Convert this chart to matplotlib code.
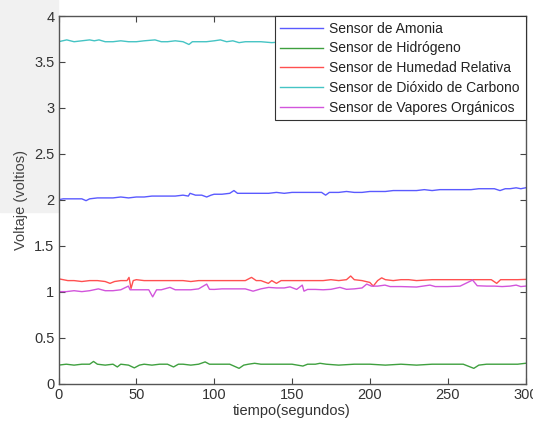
import matplotlib
matplotlib.use('Agg')
import matplotlib.pyplot as plt
from matplotlib.patches import Rectangle

plt.rcParams['font.family'] = ['Liberation Sans', 'DejaVu Sans']

# datos (tiempo en s, voltaje en V)
t_amonia = [0, 3, 8, 12, 15, 17.7, 20, 25, 30, 35, 40, 45, 50, 55, 60, 65, 70, 75, 80,
            83.4, 84.5, 88, 92, 95.2, 98, 100, 105, 110, 112.7, 115, 120, 125, 130, 135,
            140, 145, 150, 155, 160, 165, 169, 171.6, 174, 180, 185, 190, 195, 200, 205,
            210, 215, 220, 225, 230, 235, 240, 245, 250, 255, 260, 265, 270, 275, 280,
            283.6, 287, 290, 294, 297, 300]
v_amonia = [2.00, 2.01, 2.01, 2.01, 2.01, 1.99, 2.01, 2.02, 2.02, 2.02, 2.03, 2.02, 2.03,
            2.03, 2.04, 2.04, 2.04, 2.04, 2.05, 2.04, 2.07, 2.05, 2.05, 2.03, 2.05, 2.06,
            2.06, 2.07, 2.10, 2.07, 2.07, 2.07, 2.07, 2.07, 2.08, 2.07, 2.08, 2.08, 2.08,
            2.08, 2.08, 2.05, 2.08, 2.08, 2.09, 2.08, 2.08, 2.09, 2.09, 2.09, 2.10, 2.10,
            2.10, 2.10, 2.11, 2.10, 2.11, 2.11, 2.11, 2.11, 2.11, 2.12, 2.12, 2.12,
            2.10, 2.12, 2.12, 2.13, 2.12, 2.13]

t_hidrogeno = [0, 5, 10, 15, 20, 22.5, 25, 30, 35, 37.8, 40, 45, 48.7, 52, 55, 60, 65, 70,
               73.9, 77, 80, 85, 90, 94.2, 97, 100, 105, 110, 116, 119, 122, 126, 130, 135,
               140, 145, 150, 157, 160, 165, 168, 172, 180, 190, 200, 210, 220, 230, 240,
               250, 255, 260, 266.8, 270, 275, 280, 285, 290, 295, 300]
v_hidrogeno = [0.20, 0.21, 0.20, 0.21, 0.21, 0.24, 0.21, 0.20, 0.21, 0.18, 0.21, 0.20,
               0.17, 0.20, 0.21, 0.20, 0.21, 0.21, 0.18, 0.21, 0.21, 0.20, 0.21, 0.235,
               0.21, 0.21, 0.21, 0.21, 0.165, 0.20, 0.21, 0.22, 0.21, 0.21, 0.21, 0.21,
               0.21, 0.19, 0.21, 0.21, 0.22, 0.21, 0.20, 0.21, 0.21, 0.20, 0.21, 0.20,
               0.21, 0.21, 0.21, 0.21, 0.165, 0.20, 0.21, 0.21, 0.21, 0.21, 0.21, 0.22]

t_humedad = [0, 3, 6, 10, 15, 20, 25, 30, 33.1, 36, 40, 44, 45.3, 46.6, 48, 50, 55, 60,
             65, 70, 75, 80, 85, 90, 95, 100, 105, 110, 115, 120, 124, 127, 130, 134.8,
             137, 140, 143, 148, 155, 160, 165, 170, 175, 180, 185, 187.7, 190, 195, 200,
             202.2, 205, 207.6, 210, 215, 220, 225, 230, 240, 250, 260, 270, 278,
             281.5, 284, 290, 295, 300]
v_humedad = [1.14, 1.13, 1.12, 1.12, 1.11, 1.12, 1.12, 1.11, 1.09, 1.11, 1.12, 1.12,
             1.155, 1.035, 1.12, 1.13, 1.12, 1.12, 1.12, 1.12, 1.12, 1.12, 1.11, 1.12,
             1.12, 1.12, 1.12, 1.12, 1.12, 1.12, 1.155, 1.12, 1.12, 1.09, 1.12, 1.09,
             1.12, 1.12, 1.12, 1.12, 1.12, 1.12, 1.13, 1.12, 1.13, 1.17, 1.13, 1.12, 1.10,
             1.06, 1.12, 1.15, 1.13, 1.12, 1.13, 1.13, 1.12, 1.13, 1.13, 1.13, 1.13, 1.13,
             1.09, 1.13, 1.13, 1.13, 1.133]

t_carbono = [0, 5.3, 10, 15, 20, 23, 26, 30, 35, 40, 45, 50, 55, 62, 66, 70, 75, 80,
             83.8, 86, 90, 95, 100, 104, 108, 112, 116, 120, 125, 130, 137, 145, 160, 180,
             200, 220, 240, 260, 280, 300]
v_carbono = [3.72, 3.74, 3.72, 3.73, 3.74, 3.73, 3.74, 3.72, 3.72, 3.73, 3.72, 3.72,
             3.73, 3.74, 3.72, 3.72, 3.73, 3.72, 3.69, 3.72, 3.72, 3.72, 3.73, 3.74,
             3.72, 3.73, 3.71, 3.72, 3.72, 3.72, 3.71, 3.72, 3.72, 3.72, 3.72, 3.72,
             3.72, 3.72, 3.72, 3.72]

t_vapores = [0, 5, 10, 15, 20, 25.6, 30, 35, 40, 44.9, 46, 50, 55, 58, 60.5, 63, 66,
             71.6, 75, 80, 85, 90, 95.2, 97, 100, 105, 110, 115, 120, 125, 130, 135, 140,
             145, 148.7, 153, 156.6, 157.7, 160, 165, 170, 175, 180.8, 185, 190, 195, 198,
             201, 205, 209.7, 213, 220, 230, 238.6, 242, 250, 258, 266, 269, 275, 280,
             285, 290, 294, 297, 300]
v_vapores = [1.00, 1.00, 1.01, 1.00, 1.01, 1.03, 1.01, 1.01, 1.02, 1.06, 1.02, 1.02,
             1.02, 1.02, 0.943, 1.02, 1.02, 1.046, 1.02, 1.02, 1.02, 1.03, 1.082, 1.025,
             1.024, 1.03, 1.03, 1.03, 1.03, 1.005, 1.03, 1.046, 1.04, 1.04, 1.052, 1.024,
             1.071, 1.005, 1.024, 1.024, 1.02, 1.025, 1.046, 1.025, 1.03, 1.04, 1.082,
             1.06, 1.06, 1.071, 1.055, 1.055, 1.05, 1.071, 1.055, 1.055, 1.06, 1.126,
             1.064, 1.06, 1.06, 1.055, 1.06, 1.071, 1.055, 1.06]

series = [
    ('Sensor de Amonia', t_amonia, v_amonia, '#5a5aff'),
    ('Sensor de Hidrógeno', t_hidrogeno, v_hidrogeno, '#3fa03f'),
    ('Sensor de Humedad Relativa', t_humedad, v_humedad, '#ff5050'),
    ('Sensor de Dióxido de Carbono', t_carbono, v_carbono, '#45c4c4'),
    ('Sensor de Vapores Orgánicos', t_vapores, v_vapores, '#d255dc'),
]

x_ticks = [0, 50, 100, 150, 200, 250, 300]
y_ticks = [0, 0.5, 1, 1.5, 2, 2.5, 3, 3.5, 4]
y_labels = ['0', '0.5', '1', '1.5', '2', '2.5', '3', '3.5', '4']

fig = plt.figure(figsize=(5.33, 4.21), dpi=100)
# fondo gris de la marca de agua a la izquierda (detras de todo)
fig.patches.append(Rectangle((0, 1 - 212 / 421), 58 / 533, 212 / 421,
                             transform=fig.transFigure, color='#f1f1f1', zorder=-10))

ax = fig.add_axes([58.5 / 533, 1 - 383.5 / 421, 467 / 533, 367.5 / 421])
ax.patch.set_facecolor('white')
for nombre, t, v, c in series:
    ax.plot(t, v, color=c, lw=1.0, label=nombre)

ax.set_xlim(0, 300)
ax.set_ylim(0, 4)
ax.set_xticks(x_ticks)
ax.set_yticks(y_ticks)
ax.set_yticklabels(y_labels)
ax.tick_params(direction='in', top=True, right=True, length=4, width=0.8,
               labelsize=10.5, colors='#444444', labelcolor='#333333', pad=3)
for s in ax.spines.values():
    s.set_color('#555555')
    s.set_linewidth(1.0)

ax.set_xlabel('tiempo(segundos)', fontsize=10.5, color='#333333', labelpad=2)
ax.set_ylabel('Voltaje (voltios)', fontsize=10.5, color='#444444', labelpad=4)

leg = ax.legend(loc='upper right', fontsize=10, frameon=True, fancybox=False,
                framealpha=1, edgecolor='#333333', borderaxespad=0,
                handlelength=3.1, handletextpad=0.45, labelspacing=0.42,
                borderpad=0.4)
leg.get_frame().set_linewidth(0.8)
for txt in leg.get_texts():
    txt.set_color('#222222')

fig.savefig('out.png', dpi=100)
